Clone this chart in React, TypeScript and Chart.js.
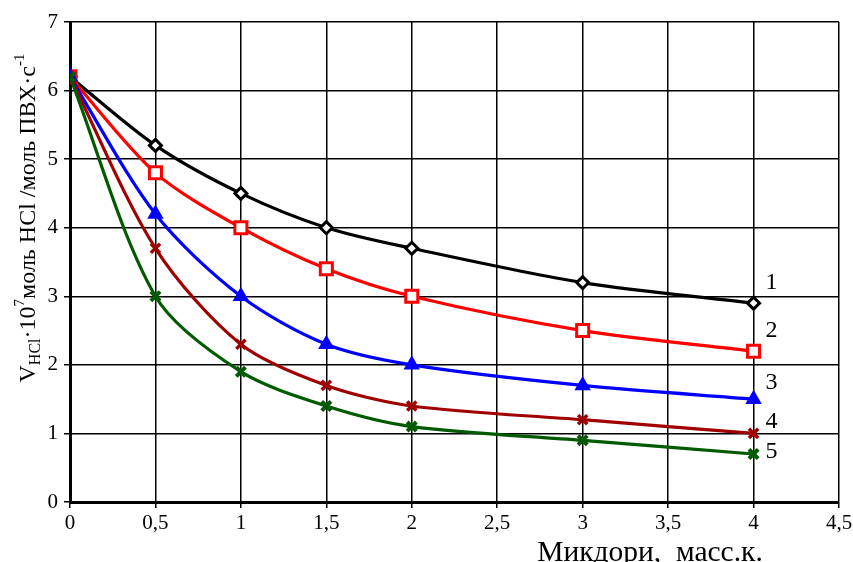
import React, { useEffect, useRef } from "react";
import { Chart, registerables } from "chart.js";

Chart.register(...registerables);

const xValues = [0, 0.5, 1, 1.5, 2, 3, 4];
const series1 = [6.2, 5.2, 4.5, 4.0, 3.7, 3.2, 2.9];
const series2 = [6.2, 4.8, 4.0, 3.4, 3.0, 2.5, 2.2];
const series3 = [6.2, 4.2, 3.0, 2.3, 2.0, 1.7, 1.5];
const series4 = [6.2, 3.7, 2.3, 1.7, 1.4, 1.2, 1.0];
const series5 = [6.2, 3.0, 1.9, 1.4, 1.1, 0.9, 0.7];
const seriesNames = ["1", "2", "3", "4", "5"];
const xTitle = "Микдори,  масс.к.";

const FONT = "'Liberation Serif', 'DejaVu Serif', serif";

const labelOffsets = [
  [18, -20],
  [18, -20],
  [18, -16],
  [18, -12],
  [18, -2],
];

const annotPlugin = {
  id: "annot",
  afterDatasetsDraw(chart: any) {
    const ctx = chart.ctx;
    ctx.save();
    ctx.fillStyle = "#000";
    ctx.font = `24px ${FONT}`;
    ctx.textAlign = "center";
    ctx.textBaseline = "middle";
    chart.data.datasets.forEach((ds: any, i: number) => {
      const meta = chart.getDatasetMeta(i);
      const pt = meta.data[meta.data.length - 1];
      const off = labelOffsets[i];
      ctx.fillText(seriesNames[i], pt.x + off[0], pt.y + off[1]);
    });
    ctx.restore();
  },
  afterDraw(chart: any) {
    const ctx = chart.ctx;
    ctx.save();
    ctx.fillStyle = "#000";
    // x title
    ctx.font = `29.5px ${FONT}`;
    ctx.textAlign = "center";
    ctx.textBaseline = "alphabetic";
    ctx.fillText(xTitle, 650, 561);
    // y title (rotated, with sub/superscripts)
    ctx.translate(29, 218);
    ctx.rotate(-Math.PI / 2);
    const parts: [string, number, number][] = [
      ["V", 24, 0],
      ["HCl", 16, 7],
      ["·10", 24, 0],
      ["7", 15, -9],
      ["моль HCl /моль ПВХ·с", 24, 0],
      ["-1", 15, -9],
    ];
    let total = 0;
    parts.forEach(([t, s]) => {
      ctx.font = `${s}px ${FONT}`;
      total += ctx.measureText(t).width;
    });
    let x = -total / 2;
    ctx.textAlign = "left";
    ctx.textBaseline = "middle";
    parts.forEach(([t, s, dy]) => {
      ctx.font = `${s}px ${FONT}`;
      ctx.fillText(t, x, dy);
      x += ctx.measureText(t).width;
    });
    ctx.restore();
  },
};

export default function App() {
  const ref = useRef<HTMLCanvasElement>(null);
  useEffect(() => {
    const mk = (
      data: number[],
      color: string,
      style: string,
      radius: number,
      bg: string,
      bw: number,
      order: number
    ) => ({
      data: xValues.map((x, i) => ({ x, y: data[i] })),
      borderColor: color,
      backgroundColor: bg,
      pointBorderColor: color,
      pointBackgroundColor: bg,
      pointStyle: style,
      pointRadius: radius,
      pointBorderWidth: bw,
      borderWidth: 3.2,
      tension: 0.3,
      order,
    });
    const chart = new Chart(ref.current!, {
      type: "line",
      data: {
        datasets: [
          mk(series1, "#000000", "rectRot", 6, "#ffffff", 3, 4),
          mk(series2, "#ff0000", "rect", 8.5, "#ffffff", 3, 3),
          mk(series3, "#0000ff", "triangle", 7.5, "#0000ff", 2, 2),
          mk(series4, "#a00000", "crossRot", 6.5, "#a00000", 3.5, 1),
          mk(series5, "#005a00", "crossRot", 6.5, "#005a00", 4, 0),
        ] as any,
      },
      options: {
        animation: false,
        responsive: false,
        maintainAspectRatio: false,
        layout: { padding: { top: 22, right: 14, left: 0, bottom: 0 } },
        plugins: {
          legend: { display: false },
          tooltip: { enabled: false },
        },
        scales: {
          x: {
            type: "linear",
            min: 0,
            max: 4.5,
            afterFit: (s: any) => {
              s.height = 60;
              s.paddingLeft = 0;
              s.paddingRight = 0;
            },
            ticks: {
              stepSize: 0.5,
              color: "#000",
              font: { family: FONT, size: 21 },
              padding: 3,
              maxRotation: 0,
              callback: (v: any) => String(v).replace(".", ","),
            },
            grid: {
              color: "#000",
              lineWidth: 1.5,
              tickLength: 6,
            },
            border: { color: "#000", width: 3 },
          },
          y: {
            type: "linear",
            min: 0,
            max: 7,
            afterFit: (s: any) => {
              s.width = 70;
              s.paddingTop = 0;
              s.paddingBottom = 0;
            },
            ticks: {
              stepSize: 1,
              color: "#000",
              font: { family: FONT, size: 21 },
              padding: 6,
            },
            grid: {
              color: "#000",
              lineWidth: 1.5,
              tickLength: 6,
            },
            border: { color: "#000", width: 3 },
          },
        },
      } as any,
      plugins: [annotPlugin],
    });
    return () => chart.destroy();
  }, []);
  return (
    <div style={{ position: "fixed", left: 0, top: 0, width: 853, height: 562, background: "#fff" }}>
      <canvas ref={ref} width={853} height={562} style={{ width: 853, height: 562 }} />
    </div>
  );
}
